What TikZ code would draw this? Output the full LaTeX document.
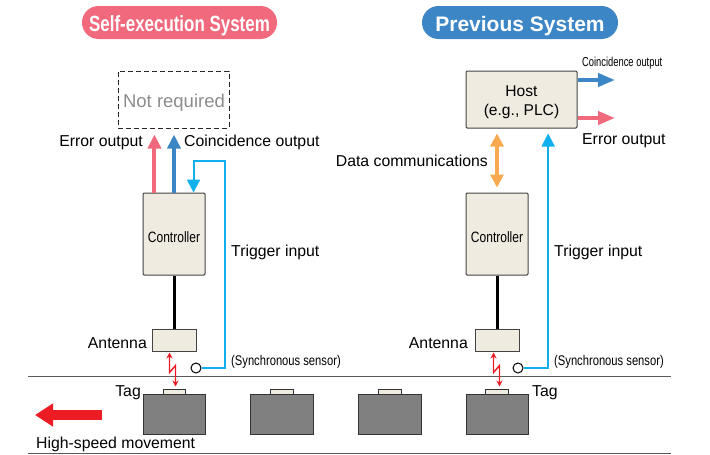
\documentclass[tikz,border=0pt]{standalone}
\usepackage{fontspec}
\setmainfont{Liberation Sans}
\newfontfamily\condfont[FakeStretch=0.77]{Liberation Sans}
\newfontfamily\ctrlfont[FakeStretch=0.8]{Liberation Sans}
\newfontfamily\sensfont[FakeStretch=0.8]{Liberation Sans}
\newfontfamily\narrowfont[FakeStretch=0.72]{Liberation Sans}
\usetikzlibrary{arrows.meta,calc}
\definecolor{pinkc}{HTML}{F0697D}
\definecolor{bluec}{HTML}{3C86C6}
\definecolor{cyanc}{HTML}{0FB0EC}
\definecolor{orangec}{HTML}{F9A94F}
\definecolor{beige}{HTML}{EFEBE1}
\definecolor{boxline}{HTML}{444444}
\definecolor{cargray}{HTML}{808080}
\definecolor{movered}{HTML}{ED1C24}
\definecolor{groundc}{HTML}{5A5A5A}
\definecolor{notreqc}{HTML}{8C8C8C}
\begin{document}
\begin{tikzpicture}[x=1pt,y=-1pt,
  pill/.style={rounded corners=16.5pt, minimum height=33pt, inner sep=0pt},
  box/.style={draw=boxline, fill=beige, line width=1pt, rounded corners=1.2pt, inner sep=0pt},
  car/.style={draw=black!80, fill=cargray, line width=1pt, inner sep=0pt, minimum width=62pt, minimum height=40pt},
  tagbox/.style={draw=black!80, fill=beige, line width=0.8pt, inner sep=0pt, minimum width=22pt, minimum height=5pt},
  lbl/.style={inner sep=0pt, font=\fontsize{15.8}{19}\selectfont},
  smalllbl/.style={inner sep=0pt, font=\sensfont\fontsize{14}{16}\selectfont},
  sensor/.style={circle, draw=black, fill=white, line width=1pt, minimum size=10pt, inner sep=0pt},
  thickarrow/.style={line width=4pt, -{Triangle[length=14pt,width=13pt]}},
  trig/.style={draw=cyanc, line width=2pt},
  ground/.style={draw=groundc, line width=1pt}
]
\useasboundingbox (0,0) rectangle (710,455);

% titles
\node[pill, fill=pinkc, minimum width=195pt] (t1) at (179.5,22.5) {};
\node[pill, fill=bluec, minimum width=196pt] (t2) at (520,22.5) {};
\node[inner sep=0pt, anchor=base, text=white, font=\condfont\bfseries\fontsize{22}{26}\selectfont] (t1t) at (179.5,31.7) {Self-execution System};
\node[inner sep=0pt, anchor=base, text=white, font=\bfseries\fontsize{21}{25}\selectfont] (t2t) at (520,31.7) {Previous System};

% boxes
\node[draw=black!85, dashed, dash pattern=on 5pt off 3pt, line width=1pt, minimum width=111pt, minimum height=57pt, inner sep=0pt] (nr) at (173.5,99.5) {};
\node[inner sep=0pt, anchor=base, text=notreqc, font=\fontsize{18.5}{22}\selectfont] (nrt) at (174,107.3) {Not required};
\node[box, minimum width=111pt, minimum height=57pt] (host) at (521.5,99.5) {};
\node[lbl, anchor=base, font=\fontsize{15.6}{19}\selectfont] (hostt1) at (521.5,96.7) {Host};
\node[lbl, anchor=base, font=\fontsize{15.6}{19}\selectfont] (hostt2) at (521.5,115) {(e.g., PLC)};

\node[box, minimum width=62pt, minimum height=82pt] (c1) at (174,234) {};
\node[box, minimum width=62pt, minimum height=82pt] (c2) at (497,234) {};
\node[inner sep=0pt, anchor=base, font=\ctrlfont\fontsize{15}{18}\selectfont] (c1t) at (174,242.3) {Controller};
\node[inner sep=0pt, anchor=base, font=\ctrlfont\fontsize{15}{18}\selectfont] (c2t) at (497,242.3) {Controller};

\node[box, rounded corners=0pt, minimum width=44pt, minimum height=22pt] (a1) at (174,340) {};
\node[box, rounded corners=0pt, minimum width=44pt, minimum height=22pt] (a2) at (497,340) {};

\node[sensor] (s1) at (196,368) {};
\node[sensor] (s2) at (518,368) {};

% ground lines
\draw[ground] (28,376) -- (671,376);
\draw[ground] (28,453) -- (671,453);

% carriages and tags
\node[car] (k1) at (174,414) {};
\node[car, minimum width=63pt] (k2) at (281.5,414) {};
\node[car, minimum width=63pt] (k3) at (389.5,414) {};
\node[car] (k4) at (497,414) {};
\node[tagbox] (g1) at (174,391.5) {};
\node[tagbox, minimum width=23pt] (g2) at (281.5,391.5) {};
\node[tagbox, minimum width=23pt] (g3) at (389.5,391.5) {};
\node[tagbox, minimum width=23pt] (g4) at (496.5,391.5) {};

% left system connectors
\coordinate (e1) at ($(c1.north west)!0.19!(c1.north east)$);
\coordinate (o1) at (c1.north);
\coordinate (i1) at ($(c1.north west)!0.81!(c1.north east)$);
\draw[thickarrow, pinkc, shorten >=6pt] (e1) -- (e1 |- nr.south);
\draw[thickarrow, bluec, shorten >=6pt] (o1) -- (o1 |- nr.south);
\coordinate (tc1) at (225,161);
\draw[trig, -{Triangle[length=13pt,width=13pt]}] (s1.east) -| (tc1) -| (i1);

\draw[line width=3pt] (c1.south) -- (a1.north);
\draw[line width=3pt] (c2.south) -- (a2.north);

% right system connectors
\draw[line width=4pt, orangec, {Triangle[length=13pt,width=13pt]}-{Triangle[length=13pt,width=13pt]}, shorten <=5pt, shorten >=5pt] (c2.north |- host.south) -- (c2.north);
\coordinate (h2) at ($(host.south west)!0.738!(host.south east)$);
\draw[trig, -{Triangle[length=13pt,width=13pt]}, shorten >=5pt] (s2.east) -| (h2);
\coordinate (ho1) at (615,80);
\coordinate (ho2) at (615,118);
\draw[line width=4pt, bluec, -{Triangle[length=17pt,width=13pt]}] (host.east |- ho1) -- (ho1);
\draw[line width=4pt, pinkc, -{Triangle[length=17pt,width=13pt]}] (host.east |- ho2) -- (ho2);

% lightning
\draw[movered, line width=1.4pt, {Stealth[length=6pt,width=6pt]}-{Stealth[length=6pt,width=6pt]}] ($(a1.south)+(-4.5,1)$) -- ++(0,20) -- ++(6,-7) -- ++(0,21);
\draw[movered, line width=1.4pt, {Stealth[length=6pt,width=6pt]}-{Stealth[length=6pt,width=6pt]}] ($(a2.south)+(-3.5,1)$) -- ++(0,20) -- ++(6,-7) -- ++(0,21);

% movement arrow
\coordinate (mv1) at (102,415);
\coordinate (mv2) at (35,415);
\draw[movered, line width=10pt, -{Triangle[length=18pt,width=22pt]}] (mv1) -- (mv2);

% labels
\node[lbl, anchor=base east] (l1) at (143,146.5) {Error output};
\node[lbl, anchor=base west] (l2) at (184,146.5) {Coincidence output};
\node[lbl, anchor=base west] (l3) at (231,256.7) {Trigger input};
\node[smalllbl, anchor=base west] (l4) at (231,365) {(Synchronous sensor)};
\node[lbl, anchor=base east] (l5) at (147,348.3) {Antenna};
\node[lbl, anchor=base east] (l6) at (141,396) {Tag};
\node[lbl, anchor=base west] (l7) at (36,448) {High-speed movement};

\node[lbl, anchor=base east] (r1) at (488,166) {Data communications};
\node[lbl, anchor=base west] (r2) at (554,256.7) {Trigger input};
\node[smalllbl, anchor=base west] (r3) at (554,365) {(Synchronous sensor)};
\node[lbl, anchor=base east] (r4) at (468,348.3) {Antenna};
\node[lbl, anchor=base west] (r5) at (532,396) {Tag};
\node[inner sep=0pt, anchor=base west, font=\narrowfont\fontsize{13}{15}\selectfont] (r6) at (582,66) {Coincidence output};
\node[lbl, anchor=base west] (r7) at (582,144) {Error output};
\end{tikzpicture}
\end{document}
